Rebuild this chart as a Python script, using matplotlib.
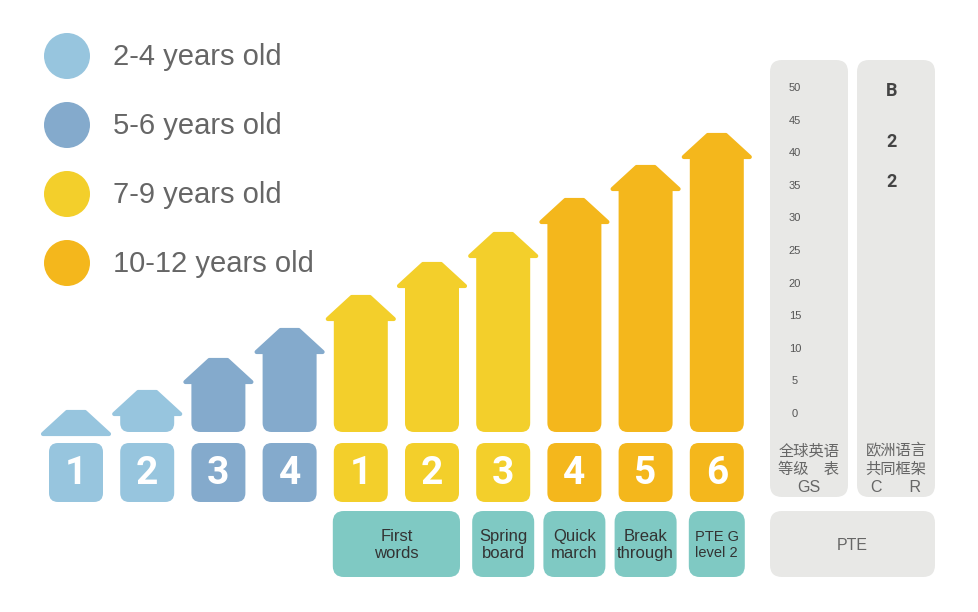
import numpy as np
import matplotlib.pyplot as plt
from matplotlib.patches import FancyBboxPatch, Polygon, Circle

# legend / age groups
legend_labels = ['2-4 years old', '5-6 years old', '7-9 years old', '10-12 years old']
group_colors = ['#97C5DE', '#84AACC', '#F3CF2B', '#F4B71C']

# steps (one arrow per level)
step_numbers = ['1', '2', '3', '4', '1', '2', '3', '4', '5', '6']
step_group = [0, 0, 1, 1, 2, 2, 2, 3, 3, 3]
arrow_heights = [22, 42, 74, 104, 137, 170, 200, 234, 267, 299]

# course names under the steps (first col, last col)
course_names = ['First\nwords', 'Spring\nboard', 'Quick\nmarch', 'Break\nthrough', 'PTE G\nlevel 2']
course_cols = [(4, 5), (6, 6), (7, 7), (8, 8), (9, 9)]

# right side scales
gse_ticks = [0, 5, 10, 15, 20, 25, 30, 35, 40, 45, 50]
cefr_marks = ['B', '2', '2']

panel_col = '#E8E8E6'
teal = '#7FC9C3'
helv = ['Liberation Sans', 'DejaVu Sans']
narrow = ['Roboto', 'DejaVu Sans']

fig = plt.figure(figsize=(9.79, 6.12), dpi=100)
ax = fig.add_axes([0, 0, 1, 1])
ax.set_xlim(0, 979)
ax.set_ylim(612, 0)
ax.axis('off')

#legend
for i, (lab, c) in enumerate(zip(legend_labels, group_colors)):
    y = 56 + i * 69
    ax.add_patch(Circle((67, y), 23, color=c, lw=0))
    ax.text(113, y + 1, lab, fontsize=21, color='#666666', va='center', ha='left', family=helv)

x0 = 76
dx = 71.2
base = 432
head_h = 24
body_w = 54
head_w = 66

for i in range(len(arrow_heights)):
    cx = x0 + i * dx
    c = group_colors[step_group[i]]
    top = base - arrow_heights[i]
    hb = top + head_h
    if hb < base:
        ax.add_patch(FancyBboxPatch((cx - body_w / 2, hb - 12), body_w, base - hb + 12,
                                    boxstyle='round,pad=0,rounding_size=9', fc=c, ec='none'))
    ax.add_patch(Polygon([(cx - head_w / 2, hb), (cx - 9, top + 2), (cx + 9, top + 2),
                          (cx + head_w / 2, hb)], closed=True, fc=c, ec=c, lw=3,
                         joinstyle='round'))
    # number box
    ax.add_patch(FancyBboxPatch((cx - body_w / 2, 443), body_w, 59,
                                boxstyle='round,pad=0,rounding_size=9', fc=c, ec='none'))
    ax.text(cx, 474, step_numbers[i], color='white', fontsize=28, fontweight='bold',
            ha='center', va='center', family=narrow)

# course boxes
pads = [1, 4, 4, 4, 1]
for name, (a, b), p in zip(course_names, course_cols, pads):
    left = x0 + a * dx - body_w / 2 - p
    right = x0 + b * dx + body_w / 2 + p
    ax.add_patch(FancyBboxPatch((left, 511), right - left, 66,
                                boxstyle='round,pad=0,rounding_size=11', fc=teal, ec='none'))
    fs = 10.5 if name.startswith('PTE') else 12
    ax.text((left + right) / 2, 545, name, ha='center', va='center', fontsize=fs,
            color='#333333', linespacing=1.15, family=helv)

# right panels
ax.add_patch(FancyBboxPatch((770, 60), 78, 437, boxstyle='round,pad=0,rounding_size=12',
                            fc=panel_col, ec='none'))
ax.add_patch(FancyBboxPatch((857, 60), 78, 437, boxstyle='round,pad=0,rounding_size=12',
                            fc=panel_col, ec='none'))
ax.add_patch(FancyBboxPatch((770, 511), 165, 66, boxstyle='round,pad=0,rounding_size=12',
                            fc=panel_col, ec='none'))

for v in gse_ticks:
    ax.text(795, 414 - v * 6.52, str(v), fontsize=8, color='#555555', ha='center',
            va='center', family=helv)

for y, m in zip([91, 142, 182], cefr_marks):
    ax.text(892, y, m, fontsize=13, fontweight='bold', color='#444444', ha='center',
            va='center', family=narrow)

cjk = ['Noto Sans CJK SC', 'DejaVu Sans']
ax.text(809, 451, '全球英语', fontsize=11, color='#666666', ha='center', va='center', family=cjk)
ax.text(809, 469, '等级\u3000表', fontsize=11, color='#666666', ha='center', va='center', family=cjk)
ax.text(809, 488, 'GS', fontsize=11.5, color='#666666', ha='center', va='center', family=helv)
ax.text(896, 451, '欧洲语言', fontsize=11, color='#666666', ha='center', va='center', family=cjk)
ax.text(896, 469, '共同框架', fontsize=11, color='#666666', ha='center', va='center', family=cjk)
ax.text(896, 488, 'C      R', fontsize=11.5, color='#666666', ha='center', va='center', family=helv)
ax.text(852, 545, 'PTE', fontsize=11.5, color='#666666', ha='center', va='center', family=helv)

fig.savefig('out.png', dpi=100)
